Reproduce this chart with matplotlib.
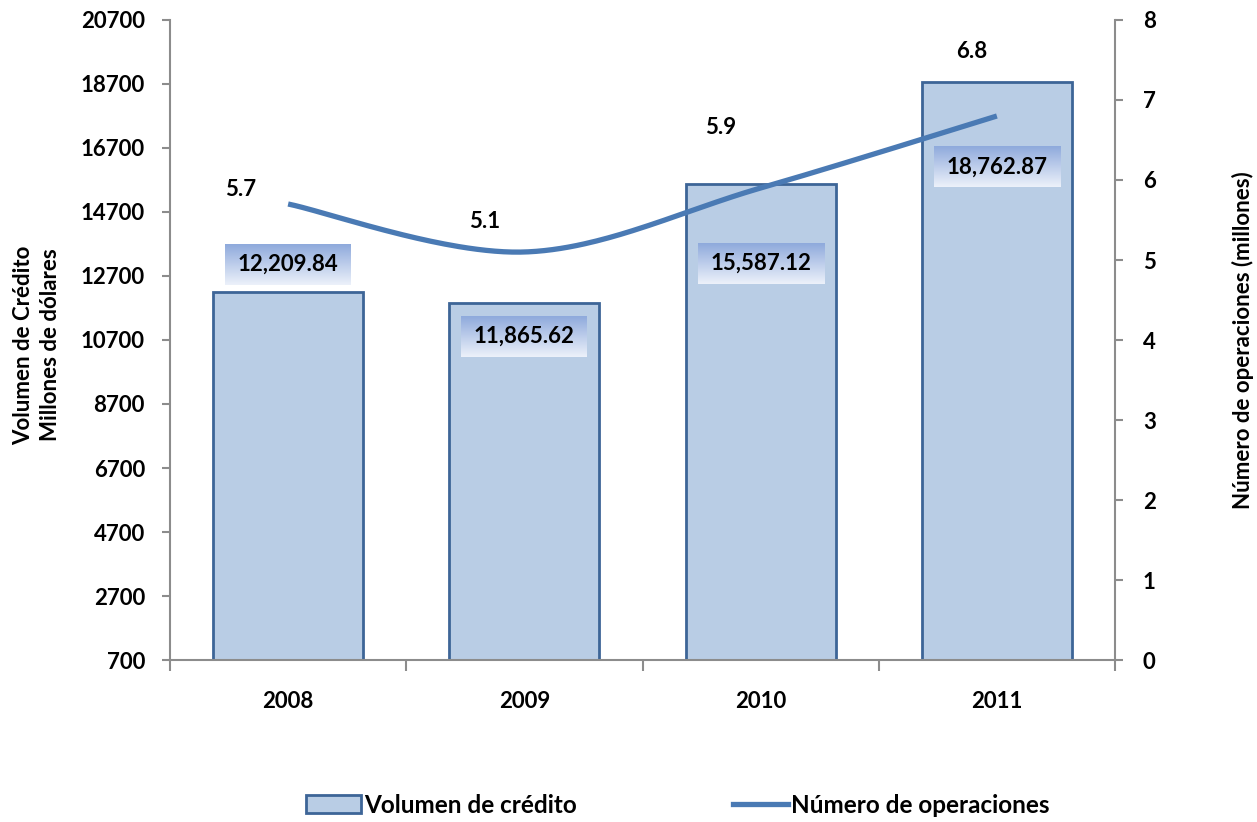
import numpy as np
import matplotlib
matplotlib.use("Agg")
import matplotlib.pyplot as plt
from matplotlib.patches import Patch
from matplotlib.lines import Line2D

plt.rcParams['font.family'] = 'Lato'
plt.rcParams['font.weight'] = 'bold'

years = ['2008', '2009', '2010', '2011']
volumen = [12209.84, 11865.62, 15587.12, 18762.87]
operaciones = [5.7, 5.1, 5.9, 6.8]
vol_labels = ['12,209.84', '11,865.62', '15,587.12', '18,762.87']
ops_labels = ['5.7', '5.1', '5.9', '6.8']
left_ticks = [700, 2700, 4700, 6700, 8700, 10700, 12700, 14700, 16700, 18700, 20700]
right_ticks = [0, 1, 2, 3, 4, 5, 6, 7, 8]

# label placement (pixels)
vol_offsets = [(0, 27), (0, -34), (0, -80), (0, -85)]
ops_offsets = [(-48, 14), (-40, 31), (-40, 61), (-25, 65)]

BAR_FACE = '#b9cde5'
BAR_EDGE = '#3d6597'
LINE_C = '#4a7ab4'
AX_C = '#8c8c8c'
FS = 16

fig = plt.figure(figsize=(12.57, 8.22), dpi=100)
ax = fig.add_axes([170/1257, 1-660/822, (1115-170)/1257, 640/822])
ax2 = ax.twinx()

x = np.arange(len(years))
ax.bar(x, volumen, width=0.635, bottom=0, color=BAR_FACE, edgecolor=BAR_EDGE, linewidth=2, zorder=2)
ax.set_xlim(-0.5, len(years) - 0.5)
ax.set_ylim(700, 20700)
ax.set_yticks(left_ticks)
ax.set_yticklabels([str(t) for t in left_ticks], fontsize=FS, fontweight='bold')

# x axis: boundary ticks, labels at centers
ax.set_xticks(np.arange(-0.5, len(years), 1.0))
ax.set_xticklabels([])
ax.set_xticks(x, minor=True)
ax.set_xticklabels(years, minor=True, fontsize=FS, fontweight='bold')
ax.tick_params(axis='x', which='major', direction='out', length=8, color=AX_C, width=1.5)
ax.tick_params(axis='x', which='minor', length=0, pad=22)
ax.tick_params(axis='y', direction='out', length=6, color=AX_C, width=1.5, pad=12)

for a in (ax, ax2):
    a.spines['top'].set_visible(False)
    for s in ('left', 'right', 'bottom'):
        a.spines[s].set_color(AX_C)
        a.spines[s].set_linewidth(1.5)
ax.spines['right'].set_visible(False)
ax2.spines['left'].set_visible(False)
ax2.spines['bottom'].set_visible(False)

# smoothed line (Catmull-Rom Bezier like Excel's smoothing)
def smooth(xs, ys, n=60):
    xs = np.asarray(xs, float); ys = np.asarray(ys, float)
    P = np.column_stack([xs, ys])
    out = []
    for i in range(len(P) - 1):
        p0 = P[i-1] if i > 0 else P[i]
        p1 = P[i]; p2 = P[i+1]
        p3 = P[i+2] if i + 2 < len(P) else P[i+1]
        c1 = p1 + (p2 - p0) / 6.0
        c2 = p2 - (p3 - p1) / 6.0
        t = np.linspace(0, 1, n)[:, None]
        seg = (1-t)**3*p1 + 3*(1-t)**2*t*c1 + 3*(1-t)*t**2*c2 + t**3*p2
        out.append(seg if i == 0 else seg[1:])
    out = np.vstack(out)
    return out[:, 0], out[:, 1]

sx, sy = smooth(x, operaciones)
ax2.plot(sx, sy, color=LINE_C, linewidth=3.8, solid_capstyle='butt', zorder=3)
ax2.set_ylim(0, 8)
ax2.set_yticks(right_ticks)
ax2.set_yticklabels([str(t) for t in right_ticks], fontsize=FS, fontweight='bold')
ax2.tick_params(axis='y', direction='out', length=6, color=AX_C, width=1.5, pad=14)
ax2.set_xlim(-0.5, len(years) - 0.5)

for xi, v, lab, off in zip(x, operaciones, ops_labels, ops_offsets):
    ax2.annotate(lab, (xi, v), xytext=off, textcoords='offset pixels',
                 ha='center', va='center', fontsize=FS, fontweight='bold', zorder=5)

# bar value labels with gradient boxes (placed in bar-axis data coords)
texts = []
for xi, v, lab, off in zip(x, volumen, vol_labels, vol_offsets):
    t = ax.annotate(lab, (xi, v), xytext=off, textcoords='offset pixels',
                    ha='center', va='center', fontsize=FS, fontweight='bold', zorder=6,
                    annotation_clip=False)
    texts.append(t)

# axis titles
fig.text(37/1257, 1-345/822, 'Volumen de Crédito\nMillones de dólares', rotation=90,
         ha='center', va='center', fontsize=FS, fontweight='bold', linespacing=1.3,
         multialignment='center')
fig.text(1243/1257, 1-340/822, 'Número de operaciones (millones)', rotation=90,
         ha='center', va='center', fontsize=FS, fontweight='bold')

fig.canvas.draw()
renderer = fig.canvas.get_renderer()
grad = np.linspace(0, 1, 64)[:, None]
top = np.array([143, 170, 220]) / 255.0
bot = np.array([236, 241, 250]) / 255.0
img = (top[None, None, :] * (1 - grad[:, :, None]) + bot[None, None, :] * grad[:, :, None])
inv = ax2.transData.inverted()
for t in texts:
    bb = t.get_window_extent(renderer=renderer)
    cx, cy = (bb.x0 + bb.x1) / 2, (bb.y0 + bb.y1) / 2
    w, h = 126, 41
    (x0, y0) = inv.transform((cx - w/2, cy - h/2))
    (x1, y1) = inv.transform((cx + w/2, cy + h/2))
    ax2.imshow(img, extent=(x0, x1, y0, y1), aspect='auto', origin='upper', zorder=4,
               interpolation='bilinear')
    t.remove()
    pos = inv.transform((cx, cy))
    ax2.text(pos[0], pos[1], t.get_text(), ha='center', va='center', fontsize=FS,
             fontweight='bold', zorder=6)
ax2.set_xlim(-0.5, len(years) - 0.5)
ax2.set_ylim(0, 8)

LFS = 17.5
handles = [Patch(facecolor=BAR_FACE, edgecolor=BAR_EDGE, linewidth=2),
           Line2D([0], [0], color=LINE_C, linewidth=3.8)]
fig.legend(handles, ['Volumen de crédito', 'Número de operaciones'], loc='center',
           bbox_to_anchor=(678/1257, 1-805/822), ncol=2, frameon=False,
           prop={'family': 'Lato', 'size': LFS, 'weight': 'bold'}, handlelength=2.26,
           handletextpad=0.15, columnspacing=6.4, handleheight=0.8)

fig.savefig('out.png', dpi=100)
